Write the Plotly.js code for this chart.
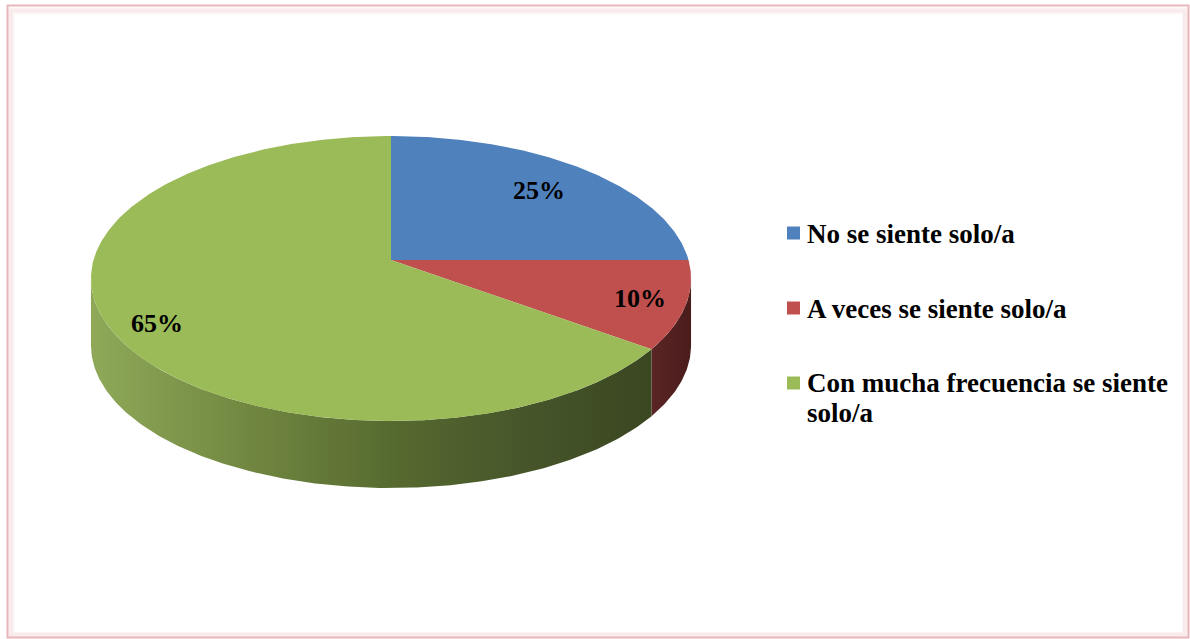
<!DOCTYPE html>
<html><head><meta charset="utf-8">
<script src="https://cdn.plot.ly/plotly-3.0.1.min.js"></script>
<style>html,body{margin:0;padding:0;background:#fff;overflow:hidden}#chart{width:1190px;height:639px}</style>
</head><body><div id="chart"></div>
<script>
// ---- data ----
const categories = ["No se siente solo/a", "A veces se siente solo/a", "Con mucha frecuencia se siente solo/a"];
const values = [25, 10, 65];

// ---- styles / geometry ----
const topColors = ["#4f81bd", "#c0504d", "#9bbb59"];
const sideScales = [
  [[0, "#3f6696"], [1, "#2c4a70"]],
  [[0, "#5a2524"], [1, "#4a1c1c"]],
  [[0, "#8fa959"], [0.3, "#6f853f"], [0.55, "#55692f"], [0.78, "#46552a"], [1, "#3a4721"]]
];
const labelRadius = [0.75, 0.85, 0.84];
const labelYShift = [0, 0, -7];
const G = {cx: 391, cy: 260, a: 297.5, b: 140.1, k: 0.1298, depth: 67};
const FONT = "Liberation Serif, Times New Roman, serif";

function proj(theta, r, bottom) {
  const u = r * Math.sin(theta), v = -r * Math.cos(theta);
  const w = 1 - G.k * v;
  return [G.cx + G.a * u / w, G.cy + G.b * v / w + (bottom ? G.depth : 0)];
}

const total = values.reduce((s, x) => s + x, 0);
const starts = [], ends = [];
let acc = 0;
values.forEach(v => { starts.push(acc / total * 2 * Math.PI); acc += v; ends.push(acc / total * 2 * Math.PI); });

const visA = Math.acos(-G.k), visB = 2 * Math.PI - Math.acos(-G.k);
const traces = [];

function arc(t0, t1, bottom, n) {
  const pts = [];
  for (let j = 0; j <= n; j++) { const t = t0 + (t1 - t0) * j / n; pts.push(proj(t, 1, bottom)); }
  return pts;
}

// sides
values.forEach((v, i) => {
  const s = Math.max(starts[i], visA), e = Math.min(ends[i], visB);
  if (e <= s) return;
  const n = Math.max(8, Math.ceil((e - s) / 0.01));
  const pts = arc(s, e, false, n).concat(arc(e, s, true, n));
  pts.push(pts[0]);
  traces.push({
    type: "scatter", mode: "lines", x: pts.map(p => p[0]), y: pts.map(p => p[1]),
    fill: "toself", line: {width: 0, color: "rgba(0,0,0,0)"},
    fillgradient: {type: "horizontal", colorscale: sideScales[i]},
    fillcolor: sideScales[i][0][1],
    hoverinfo: "skip", showlegend: false
  });
});

// tops
values.forEach((v, i) => {
  const n = Math.max(8, Math.ceil((ends[i] - starts[i]) / 0.01));
  const c = proj(0, 0, false);
  const pts = [c].concat(arc(starts[i], ends[i], false, n)); pts.push(c);
  traces.push({
    type: "scatter", mode: "lines", x: pts.map(p => p[0]), y: pts.map(p => p[1]),
    fill: "toself", fillcolor: topColors[i], line: {width: 0, color: "rgba(0,0,0,0)"},
    hoverinfo: "skip", showlegend: false
  });
});

const annotations = [];
const shapes = [];
// slice labels
values.forEach((v, i) => {
  const mid = (starts[i] + ends[i]) / 2;
  const p = proj(mid, labelRadius[i], false);
  annotations.push({x: p[0], y: p[1], xref: "x", yref: "y", showarrow: false, yshift: labelYShift[i],
    text: "<b>" + Math.round(v / total * 100) + "%</b>",
    font: {family: FONT, size: 26, color: "#000"}, xanchor: "center", yanchor: "middle"});
});

// legend
const LEG = {x: 787, sq: 13, textX: 806, y0: 233, step: 75, lineH: 30, maxChars: 32};
function wrap(s) {
  const words = s.split(" "), lines = [];
  let cur = "";
  words.forEach(w => { const t = cur ? cur + " " + w : w; if (t.length > LEG.maxChars && cur) { lines.push(cur); cur = w; } else cur = t; });
  lines.push(cur);
  return lines;
}
categories.forEach((c, i) => {
  const yc = LEG.y0 + LEG.step * i;
  shapes.push({type: "rect", xref: "x", yref: "y", x0: LEG.x, x1: LEG.x + LEG.sq, y0: yc - LEG.sq / 2, y1: yc + LEG.sq / 2,
    fillcolor: topColors[i], line: {width: 0}});
  const lines = wrap(c);
  lines.forEach((ln, j) => {
    annotations.push({x: LEG.textX, y: yc + 1 - (lines.length > 1 ? 1 : 0) + j * LEG.lineH, xref: "x", yref: "y", showarrow: false,
      text: "<b>" + ln + "</b>", font: {family: FONT, size: 27, color: "#000"}, xanchor: "left", yanchor: "middle",
      borderpad: 0});
  });
});

// frame with soft inner glow
[[14, 0.05], [11, 0.08], [9, 0.12]].forEach(([d, o]) => {
  shapes.push({type: "rect", xref: "x", yref: "y", x0: 7.5 + d / 3, x1: 1188.5 - d / 3, y0: 5.5 + d / 2, y1: 637.5 - d / 4,
    line: {color: "rgba(230,170,175," + o + ")", width: 5}, layer: "below"});
});
shapes.push({type: "rect", xref: "x", yref: "y", x0: 7.5, x1: 1188.5, y0: 5.5, y1: 637.5,
  line: {color: "#e8b6b9", width: 2}});

const layout = {
  width: 1190, height: 639, margin: {l: 0, r: 0, t: 0, b: 0},
  paper_bgcolor: "#fff", plot_bgcolor: "#fff",
  xaxis: {range: [0, 1190], visible: false, fixedrange: true},
  yaxis: {range: [639, 0], visible: false, fixedrange: true},
  annotations, shapes, showlegend: false, hovermode: false
};
Plotly.newPlot("chart", traces, layout, {staticPlot: true, displayModeBar: false});
</script></body></html>
